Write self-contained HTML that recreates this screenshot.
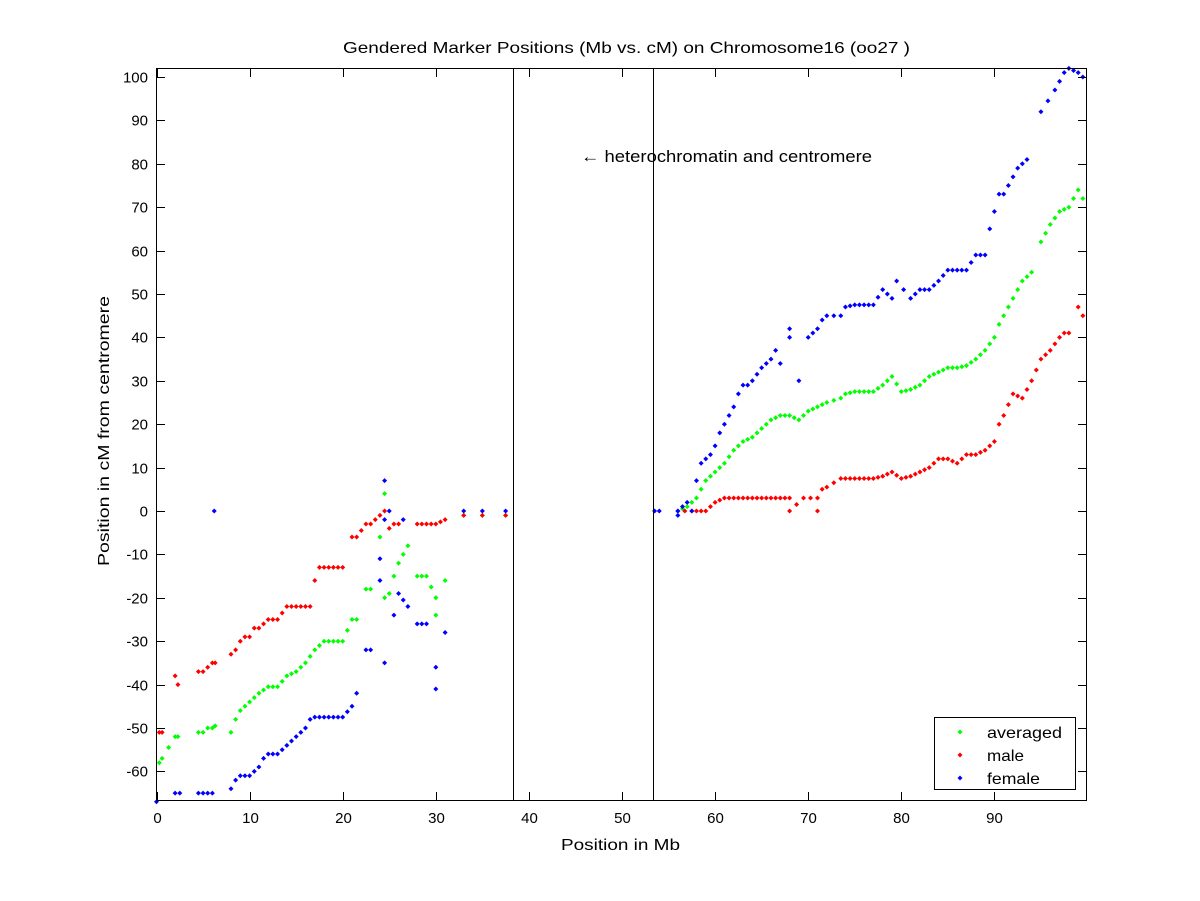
<!DOCTYPE html>
<html><head><meta charset="utf-8"><style>
body{margin:0;background:#fff;}
svg{display:block;font-family:"Liberation Sans",sans-serif;}
</style></head><body>
<svg id="s" width="1200" height="901" xmlns="http://www.w3.org/2000/svg">
<rect width="1200" height="901" fill="#fff"/>
<g id="pts"></g>
<g id="ax" stroke="#000" stroke-width="1" fill="none"></g>
<g id="tx" font-size="15" fill="#000"></g>
</svg>
<script>
const X=mb=>156.5+mb*9.31, Y=c=>511-c*4.34;
const ns="http://www.w3.org/2000/svg";
const ax=document.getElementById('ax'),tx=document.getElementById('tx'),pg=document.getElementById('pts');
function el(p,t,a,txt){const e=document.createElementNS(ns,t);for(const k in a)e.setAttribute(k,a[k]);if(txt!=null)e.textContent=txt;p.appendChild(e);return e;}
el(ax,'rect',{x:156.5,y:68.5,width:930,height:732});
for(let v=0;v<=90;v+=10){const x=Math.round(X(v))+.5;el(ax,'line',{x1:x,y1:800.5,x2:x,y2:792});el(ax,'line',{x1:x,y1:68.5,x2:x,y2:77});
el(tx,'text',{x:x,y:823,'text-anchor':'middle'},v);}
for(let v=-60;v<=100;v+=10){const y=Math.round(Y(v))+.5;el(ax,'line',{x1:156.5,y1:y,x2:165,y2:y});el(ax,'line',{x1:1086.5,y1:y,x2:1078,y2:y});
el(tx,'text',{x:148,y:y+5,'text-anchor':'end'},v);}
el(ax,'line',{x1:513.5,y1:68,x2:513.5,y2:800});
el(ax,'line',{x1:653.5,y1:68,x2:653.5,y2:800});
el(tx,'text',{x:343,y:53,'font-size':'16',textLength:567,lengthAdjust:'spacingAndGlyphs'},'Gendered Marker Positions (Mb vs. cM) on Chromosome16 (oo27 )');
el(tx,'text',{x:561,y:850,'font-size':'16',textLength:119,lengthAdjust:'spacingAndGlyphs'},'Position in Mb');
el(tx,'text',{x:0,y:0,'font-size':'16',textLength:270,lengthAdjust:'spacingAndGlyphs',transform:'translate(109,566) rotate(-90)'},'Position in cM from centromere');
el(tx,'text',{x:581,y:162,'font-size':'17',textLength:291,lengthAdjust:'spacingAndGlyphs'},'\u2190 heterochromatin and centromere');
el(ax,'rect',{x:934.5,y:717.5,width:141,height:72,fill:'#fff'});
const G='#00ff00',R='#ff0000',B='#0000ff';
function dot(p,x,y,c){el(p,'polygon',{points:`${x},${y-2.5} ${x+2.5},${y} ${x},${y+2.5} ${x-2.5},${y}`,fill:c});}
[['averaged',G,738,75],['male',R,761,37],['female',B,784,53]].forEach(([t,c,y,w])=>{dot(tx,960,y-6,c);el(tx,'text',{x:987,y:y,'font-size':'16',textLength:w,lengthAdjust:'spacingAndGlyphs'},t);});
const red=[[0.3,-51],[0.6,-51],[2,-38],[2.3,-40],[4.5,-37],[5,-37],[5.5,-36],[6,-35],[6.3,-35],[8,-33],[8.5,-32],[9,-30],[9.5,-29],[10,-29],[10.5,-27],[11,-27],[12,-25],[12.5,-25],[13,-25],[14,-22],[15,-22],[16,-22],[16.5,-22],[17,-16],[17.5,-13],[18,-13],[19,-13],[20,-13],[21,-6],[21.5,-6],[22.5,-3],[23,-3],[24,-1],[24.5,0],[25,-4],[25.5,-3],[26,-3],[28,-3],[29,-3],[30,-3],[31,-2],[33,-1],[35,-1],[37.5,-1],
[56,0],[57.5,0],[58.5,0],[59,0],[59.5,1],[60,2],[61,3],[62,3],[63,3],[64,3],[65,3],[66,3],[67,3],[68,3],[68,0],[69.5,3],[71,3],[71,0],[71.5,5],[72,5.5],[73.5,7.5],[74,7.5],[75,7.5],[76,7.5],[77,7.5],[78,8],[79,9],[80,7.5],[81,8],[82,9],[83,10],[84,12],[85,12],[86,11],[87,13],[88,13],[89,14],[90,16],[90.5,20],[91,22],[92,27],[93,26],[94,30],[95,35],[96,37],[97,40],[97.5,41],[98,41],[99,47],[99.5,45]];
const green=[[0.3,-58],[0.6,-57],[2,-52],[2.3,-52],[4.5,-51],[5,-51],[5.5,-50],[6,-50],[6.3,-49.5],[8,-51],[8.5,-48],[9,-46],[9.5,-45],[10,-44],[10.5,-43],[11,-42],[12,-40.5],[12.5,-40.5],[13,-40.5],[14,-38],[15,-37],[15.5,-36],[16,-35],[17,-32],[18,-30],[19,-30],[20,-30],[21,-25],[21.5,-25],[22.5,-18],[23,-18],[24,-6],[24.5,4],[24.5,-20],[25,-19],[25.5,-15],[26,-12],[27,-8],[28,-15],[29,-15],[30,-20],[30,-24],[31,-16],[33,-1],[35,-1],[37.5,-1],
[56,0],[57,1],[58,3],[58.5,5],[59,7],[60,9],[61,11],[62,14],[63,16],[64,17],[65,19],[66,21],[67,22],[68,22],[69,21],[70,23],[71,24],[72,25],[73.5,26],[74,27],[75,27.5],[76,27.5],[77,27.5],[78,29],[79,31],[80,27.5],[81,28],[82,29],[83,31],[84,32],[85,33],[86,33],[87,33.5],[88,35],[89,37],[90,40],[90.5,43],[91,45],[92,49],[93,53],[94,55],[95,62],[96,66],[97,69],[98,70],[99,74],[99.5,72]];
const blue=[[0,-67],[2,-65],[2.5,-65],[4.5,-65],[5,-65],[5.5,-65],[6,-65],[6.2,0],[8,-64],[8.5,-62],[9,-61],[9.5,-61],[10,-61],[11,-59],[11.5,-57],[12,-56],[13,-56],[14,-54],[15,-52],[16,-50],[16.5,-48],[17,-47.5],[18,-47.5],[19,-47.5],[20,-47.5],[21,-45],[21.5,-42],[22.5,-32],[23,-32],[24,-11],[24,-16],[24.5,-35],[24.5,7],[24.5,-2],[25,0],[25.5,-24],[26,-19],[27,-22],[26.5,-2],[28,-26],[29,-26],[30,-36],[30,-41],[31,-28],[33,0],[35,0],[37.5,0],
[53.5,0],[54,0],[56,0],[56,-1],[56.5,1],[57,2],[57.5,0],[58,7],[58.5,11],[59,12],[59.5,13],[60,15],[60.5,18],[61,20],[61.5,22],[62,24],[62.5,27],[63,29],[63.5,29],[64,30],[65,33],[66,35],[66.5,37],[67,34],[68,40],[68,42],[69,30],[70,40],[71,42],[71.5,44],[72,45],[73.5,45],[74,47],[75,47.5],[76,47.5],[77,47.5],[78,51],[79,49],[79.5,53],[81,49],[82,51],[83,51],[84,53],[85,55.5],[86,55.5],[87,55.5],[88,59],[89,59],[89.5,65],[90,69],[90.5,73],[91,73],[92,77],[92.5,79],[93,80],[93.5,81],[95,92],[96.5,97],[97,99],[97.5,101],[98,102],[99,101],[99.5,100]];
function plot(arr,c){arr.forEach((p,i)=>{dot(pg,X(p[0]),Y(p[1]),c);const q=arr[i+1];if(q&&q[0]-p[0]>=1&&q[0]-p[0]<=1.5&&Math.abs(q[1]-p[1])<6)dot(pg,X((p[0]+q[0])/2),Y((p[1]+q[1])/2),c);});}
plot(green,G);plot(red,R);plot(blue,B);
</script>
</body></html>
